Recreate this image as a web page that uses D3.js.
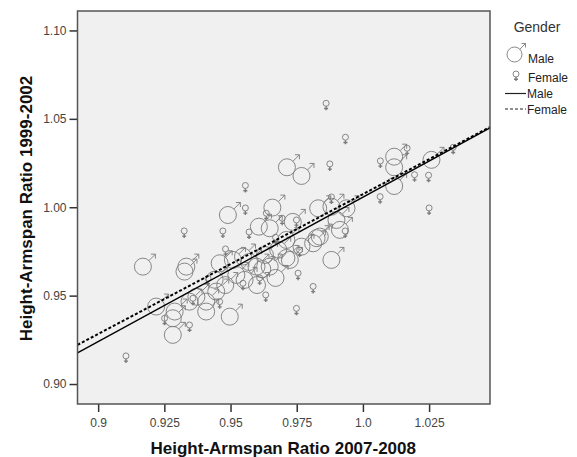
<!DOCTYPE html>
<html>
<head>
<meta charset="utf-8">
<script src="https://cdn.jsdelivr.net/npm/d3@7"></script>
<style>
  body { margin: 0; background: #fff; }
  text { font-family: Arial, "Liberation Sans", sans-serif; }
</style>
</head>
<body>
<svg id="chart" width="577" height="457"></svg>
<script>
// ratio 2007-2008 (x) vs ratio 1999-2002 (y)
const maleX = [0.9169, 0.9333, 0.9326, 0.9490, 0.9607, 0.9648, 0.9658, 0.9713, 0.9768, 1.0118,
  1.0118, 1.0118, 1.0259, 0.9831, 0.9881, 0.9938, 0.9900, 0.9711, 0.9768, 0.9812,
  0.9837, 0.9881, 0.9724, 0.9459, 0.9509, 0.9547, 0.9522, 0.9553, 0.9371, 0.9408,
  0.9446, 0.9408, 0.9497, 0.9219, 0.9289, 0.9282, 0.9282, 0.9825, 0.9735, 0.9913,
  0.9711, 0.9648, 0.9598, 0.9345, 0.944, 0.948, 0.962, 0.967, 0.960, 0.957,
  0.963, 0.968];
const maleY = [0.9664, 0.9664, 0.9636, 0.9956, 0.9890, 0.9881, 0.9998, 1.0226, 1.0177, 1.0286,
  1.0226, 1.0120, 1.0268, 0.9994, 1.0003, 0.9994, 0.9928, 0.9815, 0.9777, 0.9796,
  0.9834, 0.9702, 0.9702, 0.9683, 0.9702, 0.9721, 0.9617, 0.9589, 0.9494, 0.9466,
  0.9523, 0.9410, 0.9381, 0.9438, 0.9410, 0.9372, 0.9278, 0.9825, 0.9917, 0.9872,
  0.9713, 0.9664, 0.9664, 0.9466, 0.959, 0.956, 0.965, 0.960, 0.956, 0.969,
  0.973, 0.976];

const femaleX = [0.9861, 0.9934, 0.9875, 0.9556, 0.9556, 1.0066, 1.0167, 1.0195, 1.0248, 1.0341,
  1.0065, 1.0250, 0.9881, 0.9635, 0.9695, 0.9749, 0.9325, 0.9471, 0.9481, 0.9933,
  0.9761, 0.9755, 0.9812, 0.9633, 0.9749, 0.9415, 0.9547, 0.9358, 0.9459, 0.9345,
  0.9251, 0.9105, 0.9610, 0.957, 0.967];
const femaleY = [1.0588, 1.0396, 1.0245, 1.0123, 0.9996, 1.0262, 1.0334, 1.0184, 1.0181, 1.0339,
  1.0060, 0.9996, 1.0058, 0.9966, 0.9938, 0.9928, 0.9866, 0.9866, 0.9764, 0.9866,
  0.9758, 0.9627, 0.9552, 0.9504, 0.9428, 0.9598, 0.9570, 0.9485, 0.9466, 0.9334,
  0.9372, 0.9159, 0.9600, 0.986, 0.983];

// fit lines per gender
const fitGroups = ["Male", "Female"];
const fitIntercepts = [0.1887, 0.2164];
const fitSlopes = [0.817, 0.791];

const xTicks = [0.9, 0.925, 0.95, 0.975, 1.0, 1.025];
const xTickLabels = ["0.9", "0.925", "0.95", "0.975", "1.0", "1.025"];
const yTicks = [0.90, 0.95, 1.00, 1.05, 1.10];

const svg = d3.select("#chart");
const margin = {top: 11, left: 77.5, right: 87, bottom: 53};
const width = 577, height = 457;
const innerWidth = width - margin.left - margin.right;
const innerHeight = height - margin.top - margin.bottom;

const x = d3.scaleLinear().domain([0.8922, 1.048]).range([0, innerWidth]);
const y = d3.scaleLinear().domain([0.8887, 1.111]).range([innerHeight, 0]);

const symColor = "#7a7a7a";

const g = svg.append("g").attr("transform", `translate(${margin.left},${margin.top})`);

g.append("rect")
  .attr("width", innerWidth).attr("height", innerHeight)
  .attr("fill", "#f0f0f0");

// axes
const xAxis = d3.axisBottom(x).tickValues(xTicks)
  .tickFormat((d, i) => xTickLabels[i]).tickSize(8).tickPadding(6);
const yAxis = d3.axisLeft(y).tickValues(yTicks)
  .tickFormat(d3.format(".2f")).tickSize(8).tickPadding(3);

const gx = g.append("g").attr("transform", `translate(0,${innerHeight})`).call(xAxis);
const gy = g.append("g").call(yAxis);
[gx, gy].forEach(a => {
  a.attr("font-size", 12).attr("font-family", "Arial, 'Liberation Sans', sans-serif");
  a.select(".domain").remove();
  a.selectAll("line").attr("stroke", "#333").attr("stroke-width", 1.5);
  a.selectAll("text").attr("fill", "#444");
});

// point symbols
function maleSymbol(sel, r) {
  const k = r / 8.5;
  sel.append("circle").attr("r", r);
  sel.append("path").attr("d",
    `M${6 * k},${-6 * k}L${12.5 * k},${-12.5 * k}M${8 * k},${-12.5 * k}L${12.5 * k},${-12.5 * k}L${12.5 * k},${-8 * k}`);
}
function femaleSymbol(sel) {
  sel.append("circle").attr("r", 3);
  sel.append("path").attr("d", "M0,3L0,7M-2,5.2L2,5.2").attr("stroke-width", 1.4);
}

const pts = g.append("g").attr("fill", "none").attr("stroke", symColor).attr("stroke-width", 0.9);

pts.selectAll("g.male")
  .data(d3.range(maleX.length))
  .enter().append("g")
  .attr("class", "male")
  .attr("transform", i => `translate(${x(maleX[i])},${y(maleY[i])})`)
  .each(function() { maleSymbol(d3.select(this), 8.5); });

pts.selectAll("g.female")
  .data(d3.range(femaleX.length))
  .enter().append("g")
  .attr("class", "female")
  .attr("transform", i => `translate(${x(femaleX[i])},${y(femaleY[i])})`)
  .each(function() { femaleSymbol(d3.select(this)); });

// fit lines
const x0 = x.domain()[0], x1 = x.domain()[1];
const line = d3.line().x(d => x(d[0])).y(d => y(d[1]));
g.selectAll("path.fit")
  .data(fitGroups)
  .enter().append("path")
  .attr("class", "fit")
  .attr("d", (d, i) => line([[x0, fitIntercepts[i] + fitSlopes[i] * x0], [x1, fitIntercepts[i] + fitSlopes[i] * x1]]))
  .attr("fill", "none")
  .attr("stroke", "#000")
  .attr("stroke-width", (d, i) => i == 0 ? 1.5 : 2)
  .attr("stroke-dasharray", (d, i) => i == 0 ? null : "3,2");

// frame
g.append("rect")
  .attr("width", innerWidth).attr("height", innerHeight)
  .attr("fill", "none").attr("stroke", "#555").attr("stroke-width", 1.5);

// axis titles
svg.append("text")
  .attr("x", margin.left + innerWidth / 2 - 0.5).attr("y", 454)
  .attr("text-anchor", "middle")
  .style("font-size", "17px").style("font-weight", "bold").attr("fill", "#111")
  .text("Height-Armspan Ratio 2007-2008");

svg.append("text")
  .attr("transform", `translate(32,${margin.top + innerHeight / 2 + 1}) rotate(-90)`)
  .attr("text-anchor", "middle")
  .style("font-size", "17px").style("font-weight", "bold").attr("fill", "#111")
  .text("Height-Armspan Ratio 1999-2002");

// legend
const lg = svg.append("g").attr("transform", "translate(505,0)");
lg.append("text").attr("x", 32).attr("y", 32).attr("text-anchor", "middle")
  .style("font-size", "14px").attr("fill", "#333").text("Gender");

const lm = lg.append("g").attr("transform", "translate(9.5,54.5)")
  .attr("fill", "none").attr("stroke", symColor).attr("stroke-width", 0.9);
maleSymbol(lm, 7.5);
lg.append("text").attr("x", 23).attr("y", 63).style("font-size", "12px").attr("fill", "#222").text("Male");

const lf = lg.append("g").attr("transform", "translate(11,74)")
  .attr("fill", "none").attr("stroke", symColor).attr("stroke-width", 0.9);
femaleSymbol(lf);
lg.append("text").attr("x", 23).attr("y", 82).style("font-size", "12px").attr("fill", "#222").text("Female");

lg.selectAll("line.key")
  .data(fitGroups)
  .enter().append("line")
  .attr("class", "key")
  .attr("x1", 0).attr("x2", 21)
  .attr("y1", (d, i) => 93.5 + i * 15.5).attr("y2", (d, i) => 93.5 + i * 15.5)
  .attr("stroke", "#222").attr("stroke-width", 1.2)
  .attr("stroke-dasharray", (d, i) => i == 0 ? null : "3,2");
lg.selectAll("text.key")
  .data(fitGroups)
  .enter().append("text")
  .attr("class", "key")
  .attr("x", 22).attr("y", (d, i) => 98 + i * 15.5)
  .style("font-size", "12px").attr("fill", "#222")
  .text(d => d);
</script>
</body>
</html>
